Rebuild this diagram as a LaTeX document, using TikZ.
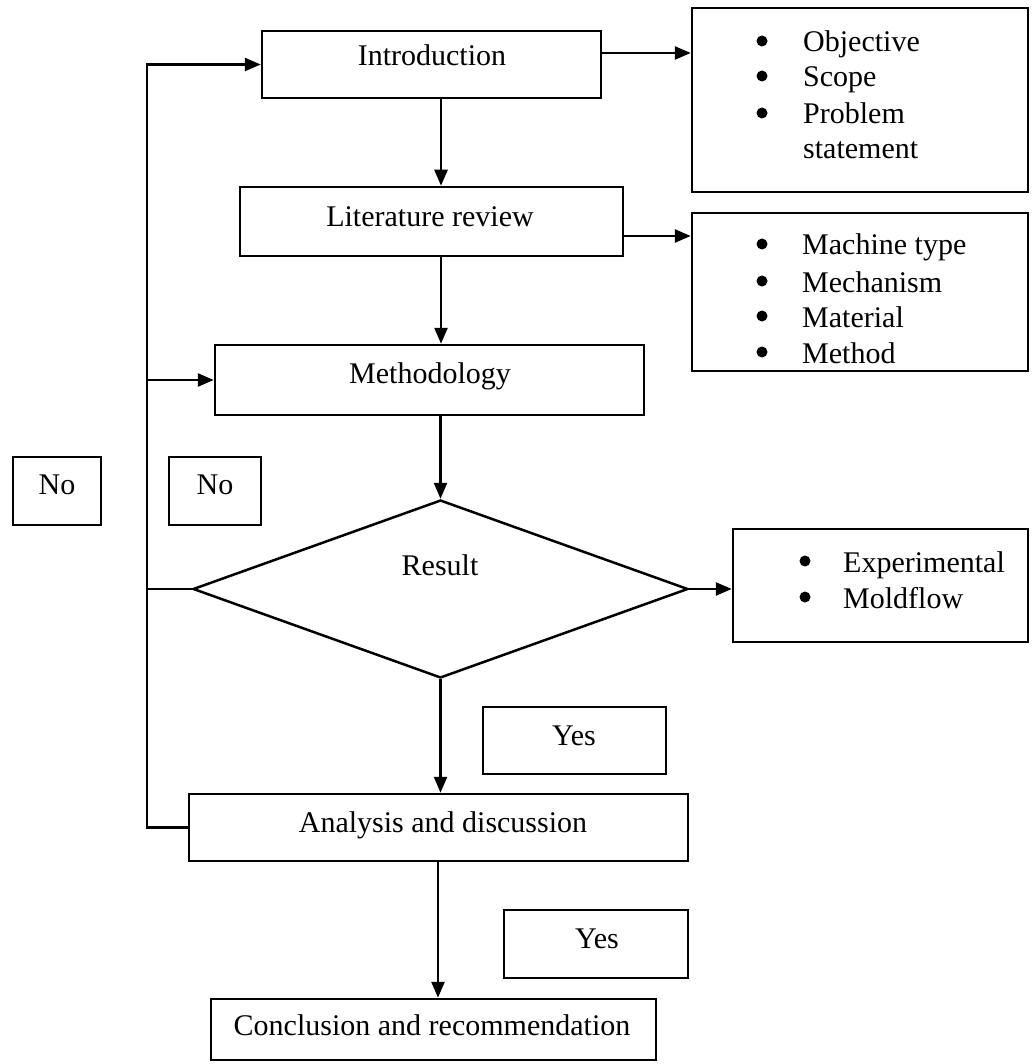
\documentclass[tikz,border=0pt]{standalone}
\usepackage{fontspec}
\setmainfont{Liberation Serif}
\usetikzlibrary{arrows.meta,shapes.geometric}
\begin{document}
\begin{tikzpicture}[x=1pt,y=-1pt,
  box/.style={draw,line width=2.5pt,inner sep=0pt},
  txt/.style={anchor=base,inner sep=0pt,font=\fontsize{30}{36}\selectfont},
  ltxt/.style={anchor=base west,inner sep=0pt,font=\fontsize{30}{36}\selectfont},
  ln/.style={line width=2.5pt},
  arr/.style={line width=2.5pt,-{Triangle[length=16pt,width=13pt]}},
  bul/.style={circle,fill,inner sep=0pt,minimum size=11pt}
]
\useasboundingbox (0,0) rectangle (1031,1064);

% main boxes
\node[box,minimum width=339pt,minimum height=67pt] (intro) at (431.5,64.5) {};
\node[box,minimum width=383pt,minimum height=69pt] (lit) at (431.5,221.5) {};
\node[box,minimum width=429pt,minimum height=70pt] (meth) at (429.5,380) {};
\node[box,diamond,minimum width=495pt,minimum height=178pt] (res) at (440.5,589) {};
\node[box,minimum width=499pt,minimum height=67pt] (ana) at (438.5,827.5) {};
\node[box,minimum width=445pt,minimum height=61pt] (conc) at (433.5,1029.5) {};

% side boxes
\node[box,minimum width=336pt,minimum height=184pt] (obj) at (860,100) {};
\node[box,minimum width=336pt,minimum height=158pt] (mech) at (860,292) {};
\node[box,minimum width=295pt,minimum height=113pt] (exp) at (880.5,585.5) {};

% label boxes
\node[box,minimum width=88pt,minimum height=68pt] (no1) at (57,491) {};
\node[box,minimum width=92pt,minimum height=68pt] (no2) at (215,491) {};
\node[box,minimum width=183pt,minimum height=67pt] (yes1) at (574.5,740.5) {};
\node[box,minimum width=184pt,minimum height=68pt] (yes2) at (596,944) {};

% texts
\node[txt] (introt) at (432,66) {Introduction};
\node[txt] (litt) at (430,227) {Literature review};
\node[txt] (metht) at (430,383) {Methodology};
\node[txt] (rest) at (440,575) {Result};
\node[txt] (anat) at (443,832) {Analysis and discussion};
\node[txt] (conct) at (432,1035) {Conclusion and recommendation};
\node[txt] (no1t) at (57,494) {No};
\node[txt] (no2t) at (215,494) {No};
\node[txt] (yes1t) at (574,745) {Yes};
\node[txt] (yes2t) at (597,948) {Yes};

% bullet lists
\node[bul] (b1) at (762,41) {};
\node[ltxt] (l1) at (803,52) {Objective};
\node[bul] (b2) at (762,76) {};
\node[ltxt] (l2) at (803,87) {Scope};
\node[bul] (b3) at (762,113) {};
\node[ltxt] (l3) at (803,124) {Problem};
\node[ltxt] (l4) at (803,159) {statement};

\node[bul] (b5) at (762,244) {};
\node[ltxt] (l5) at (802,255) {Machine type};
\node[bul] (b6) at (762,281) {};
\node[ltxt] (l6) at (802,292) {Mechanism};
\node[bul] (b7) at (762,316) {};
\node[ltxt] (l7) at (802,327) {Material};
\node[bul] (b8) at (762,352) {};
\node[ltxt] (l8) at (802,363) {Method};

\node[bul] (b9) at (805,561) {};
\node[ltxt] (l9) at (843,572) {Experimental};
\node[bul] (b10) at (805,597) {};
\node[ltxt] (l10) at (843,608) {Moldflow};

% helper coordinates
\coordinate (ax) at (441,0);
\coordinate (lx) at (147,0);
\coordinate (a1) at (0,53);
\coordinate (a2) at (0,236);
\coordinate (a3) at (438,0);

% main flow
\draw[arr] (intro.south -| ax) -- (lit.north -| ax);
\draw[arr] (lit.south -| ax) -- (meth.north -| ax);
\draw[arr] (meth.south -| res.north) -- (res.north);
\draw[arr] (res.south) -- (res.south |- ana.north);
\draw[arr] (ana.south -| a3) -- (conc.north -| a3);

% side arrows
\draw[arr] (intro.east |- a1) -- (obj.west |- a1);
\draw[arr] (lit.east |- a2) -- (mech.west |- a2);
\draw[arr] (res.east) -- (exp.west |- res.east);

% feedback loop
\draw[arr] (ana.west) -- (ana.west -| lx) -- (lx |- intro.west) -- (intro.west);
\draw[arr] (lx |- meth.west) -- (meth.west);
\draw[ln] (res.west) -- (res.west -| lx);
\end{tikzpicture}
\end{document}
